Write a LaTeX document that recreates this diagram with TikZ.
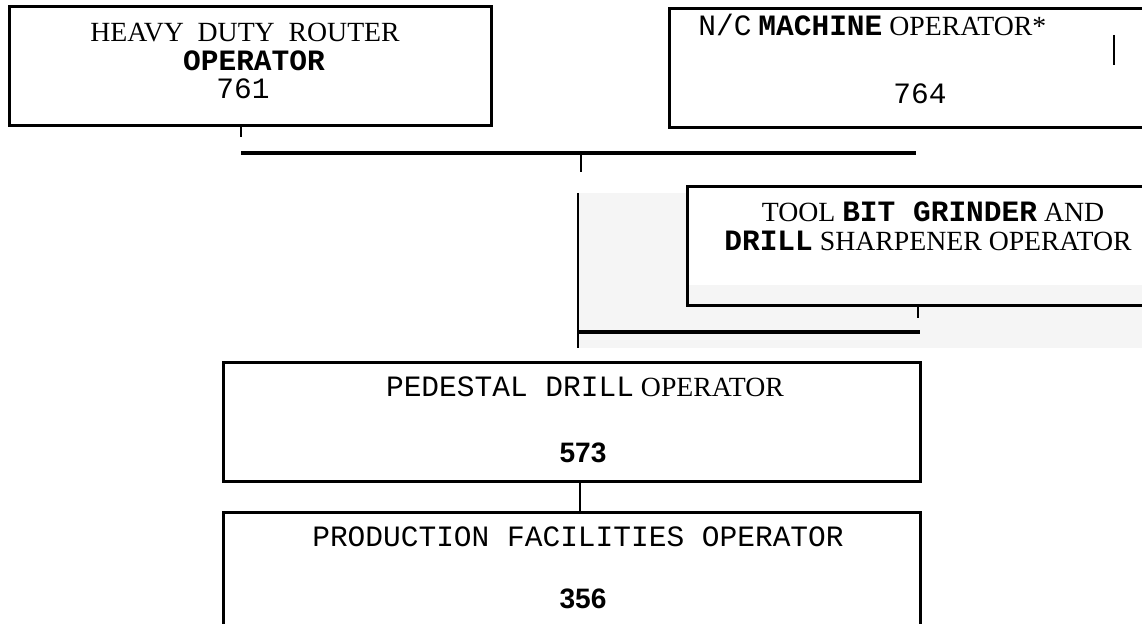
\documentclass[tikz,border=0pt]{standalone}
\usepackage{fontspec}
\setmainfont{Liberation Serif}
\newfontfamily\typefont{Liberation Mono}
\newfontfamily\digitfont{Liberation Sans}
\usepackage{tikz}
\usetikzlibrary{positioning}

\newcommand{\tw}[1]{{\typefont\fontsize{16.8}{18}\selectfont #1}}
\newcommand{\twb}[1]{{\typefont\bfseries\fontsize{16.8}{18}\selectfont #1}}

\begin{document}
\begin{tikzpicture}[
    x=0.02cm, y=-0.02cm,
    box/.style={draw, line width=1.6pt, inner sep=0pt, minimum height=2.38cm, anchor=north west},
    txt/.style={inner sep=0pt, anchor=base, font=\fontsize{15.8}{18}\selectfont},
    num/.style={inner sep=0pt, anchor=base, font=\digitfont\bfseries\fontsize{16}{18}\selectfont},
    bus/.style={line width=1.8pt},
    tick/.style={line width=1.4pt},
    thin link/.style={line width=0.6pt},
    scan/.style={fill=black!4}
]
\useasboundingbox (0,0) rectangle (1142,624);
\clip (0,0) rectangle (1142,624);
% top row: two operators
\node[box, minimum width=9.64cm] (router) at (8,5) {};
\node[box, minimum width=9.64cm] (nc) at (668,7) {};
\draw[tick] (1114,35) -- (1114,65);
% grey patch behind the grinder branch
\fill[scan] (578,193) rectangle (1142,348);
\node[box, minimum width=9.64cm, fill=white,
      path picture={\fill[black!4] ([yshift=0.4cm]path picture bounding box.south west) rectangle (path picture bounding box.south east);}]
      (grinder) at (686,185) {};
% lower column
\node[box, minimum width=13.94cm] (pedestal) at (222,361) {};
\node[box, minimum width=13.94cm, below=0.56cm of pedestal.south west, anchor=north west] (facilities) {};
% labels
\node[txt] (router-a) at (245,42) {HEAVY\ \ DUTY\ \ ROUTER};
\node[txt] (router-b) at (254,71) {\twb{OPERATOR}};
\node[txt] (router-c) at (243,99) {\tw{761}};
\node[txt, anchor=base west] (nc-a) at (698,36) {\tw{N/C} \twb{MACHINE} OPERATOR*};
\node[txt] (nc-b) at (920,104) {\tw{764}};
\node[txt] (grinder-a) at (933,222) {TOOL \twb{BIT GRINDER} AND};
\node[txt, anchor=base west] (grinder-b) at (724,251) {\twb{DRILL} SHARPENER OPERATOR};
\node[txt] (pedestal-a) at (585,397) {\tw{PEDESTAL DRILL} OPERATOR};
\node[num] (pedestal-b) at (583,462) {573};
\node[txt] (facilities-a) at (578,546) {\tw{PRODUCTION FACILITIES OPERATOR}};
\node[num] (facilities-b) at (583,608) {356};
% connectors
\coordinate (busw) at (241,153);
\coordinate (buse) at (916,153);
\coordinate (drop) at (581,172);
\draw[tick] (router.south -| busw) -- ++(0,10);
\draw[bus] (busw) -- (buse);
\draw[tick] (busw -| drop) -- (drop);
\coordinate (gdrop) at (918,318);
\coordinate (brw) at (578,332);
\coordinate (bre) at (920,332);
\coordinate (vtop) at (578,193);
\coordinate (vbot) at (578,348);
\draw[tick] (grinder.south -| gdrop) -- (gdrop);
\draw[bus] (brw) -- (bre);
\draw[tick] (vtop) -- (vbot);
\coordinate (link) at (580,0);
\draw[thin link] (pedestal.south -| link) -- (facilities.north -| link);
\end{tikzpicture}
\end{document}
